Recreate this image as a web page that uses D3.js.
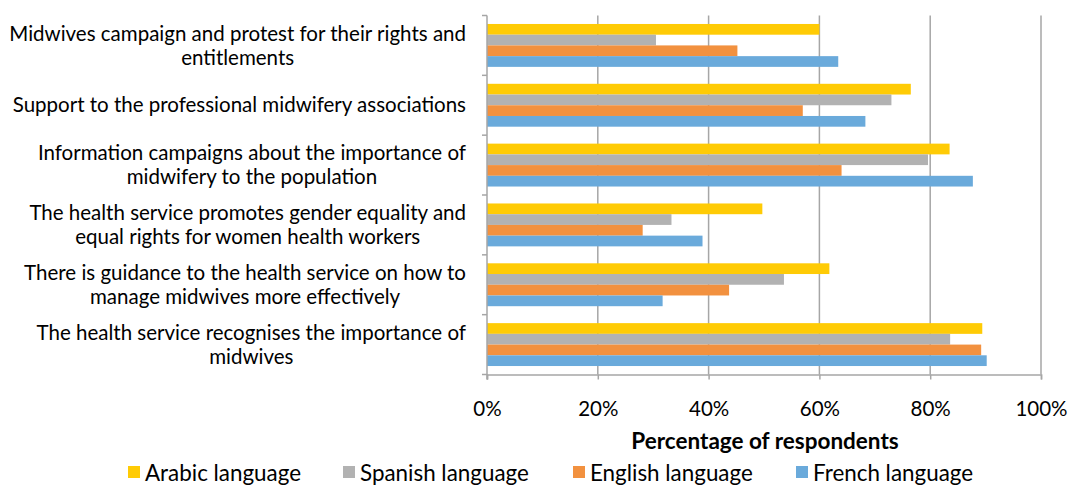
<!DOCTYPE html>
<html>
<head>
<meta charset="utf-8">
<script src="https://cdn.jsdelivr.net/npm/d3@7"></script>
<style>
  html, body { margin: 0; padding: 0; background: #fff; }
  svg { display: block; font-family: Lato, "Open Sans", sans-serif; }
</style>
</head>
<body>
<svg id="chart" width="1070" height="485"></svg>
<script>
// Survey statements (top to bottom)
const categories = [
  ["Midwives campaign and protest for their rights and", "entitlements"],
  ["Support to the professional midwifery associations"],
  ["Information campaigns about the importance of", "midwifery to the population"],
  ["The health service promotes gender equality and", "equal rights for women health workers"],
  ["There is guidance to the health service on how to", "manage midwives more effectively"],
  ["The health service recognises the importance of", "midwives"]
];

// Percentage of respondents agreeing, by questionnaire language
const seriesNames = ["Arabic language", "Spanish language", "English language", "French language"];
const arabic  = [60.0, 76.5, 83.5, 49.7, 61.8, 89.4];
const spanish = [30.5, 73.0, 79.6, 33.3, 53.6, 83.6];
const english = [45.2, 57.0, 64.0, 28.1, 43.7, 89.2];
const french  = [63.4, 68.3, 87.7, 38.9, 31.7, 90.2];
const seriesValues = [arabic, spanish, english, french];
const colors = ["#ffcb05", "#b2b2b2", "#f2913f", "#6aaadb"];

const xTicks = [0, 20, 40, 60, 80, 100];

const svg = d3.select("#chart");
const plotLeft = 487, plotRight = 1041, plotTop = 15.5, plotBottom = 374.5;

const x = d3.scaleLinear().domain([0, 100]).range([plotLeft, plotRight]);
const y = d3.scaleBand().domain(d3.range(categories.length)).range([plotTop, plotBottom]).padding(0);
const ys = d3.scaleBand().domain(d3.range(seriesNames.length))
  .range([0, y.bandwidth()]).paddingInner(0).paddingOuter(0.79);

const axisColor = "#a6a6a6";

// vertical gridlines
svg.append("g").selectAll("line").data(xTicks.slice(1)).join("line")
  .attr("x1", d => x(d)).attr("x2", d => x(d))
  .attr("y1", plotTop).attr("y2", plotBottom)
  .attr("stroke", axisColor).attr("stroke-width", 1.5);

// bars
const groups = svg.append("g").selectAll("g").data(categories).join("g")
  .attr("transform", (d, i) => `translate(0,${y(i)})`);
groups.each(function(d, ci) {
  d3.select(this).selectAll("rect").data(seriesValues.map((vals, si) => ({si, v: vals[ci]})))
    .join("rect")
    .attr("x", x(0))
    .attr("y", e => ys(e.si))
    .attr("width", e => x(e.v) - x(0))
    .attr("height", ys.bandwidth())
    .attr("fill", e => colors[e.si]);
});

// x axis
const xAxis = d3.axisBottom(x).tickValues(xTicks).tickSize(5).tickFormat(d => d + "%").tickPadding(22);
const gx = svg.append("g").attr("transform", `translate(0,${plotBottom})`).call(xAxis);
gx.select(".domain").attr("stroke", axisColor).attr("stroke-width", 1.5);
gx.selectAll(".tick line").attr("stroke", axisColor).attr("stroke-width", 1.5);
gx.selectAll(".tick text").attr("font-size", 20.5).attr("fill", "#000")
  .attr("font-family", "Lato, sans-serif");

// y axis with ticks at category boundaries
const gy = svg.append("g");
gy.append("line").attr("x1", plotLeft).attr("x2", plotLeft).attr("y1", plotTop).attr("y2", plotBottom + 5)
  .attr("stroke", axisColor).attr("stroke-width", 1.5);
gy.selectAll("line.t").data(d3.range(categories.length + 1)).join("line").attr("class", "t")
  .attr("x1", plotLeft - 5).attr("x2", plotLeft)
  .attr("y1", i => plotTop + i * y.step()).attr("y2", i => plotTop + i * y.step())
  .attr("stroke", axisColor).attr("stroke-width", 1.5);

// category labels, centered block, right edge near axis
const labelRight = 466, lineGap = 24, labelSize = 20.5;
categories.forEach((lines, i) => {
  const cy = y(i) + y.bandwidth() / 2;
  const g = svg.append("g");
  const texts = lines.map((s, k) => g.append("text")
    .attr("y", cy + (k - (lines.length - 1) / 2) * lineGap)
    .attr("dy", "0.35em")
    .attr("text-anchor", "middle")
    .attr("font-size", labelSize)
    .attr("fill", "#000")
    .text(s));
  const maxW = d3.max(texts, t => t.node().getComputedTextLength());
  texts.forEach(t => t.attr("x", labelRight - maxW / 2));
});

// axis title
svg.append("text").attr("x", 765).attr("y", 449).attr("text-anchor", "middle")
  .attr("font-size", 22.5).attr("font-weight", "bold").attr("fill", "#000")
  .text("Percentage of respondents");

// legend
const legendX = [128, 343, 573, 796];
const lg = svg.append("g").selectAll("g").data(seriesNames).join("g")
  .attr("transform", (d, i) => `translate(${legendX[i]},466)`);
lg.append("rect").attr("x", 0).attr("y", 0).attr("width", 12).attr("height", 12)
  .attr("fill", (d, i) => colors[i]);
lg.append("text").attr("x", 17).attr("y", 7).attr("dy", "0.35em")
  .attr("font-size", 22.4).attr("fill", "#000").text(d => d);
</script>
</body>
</html>
